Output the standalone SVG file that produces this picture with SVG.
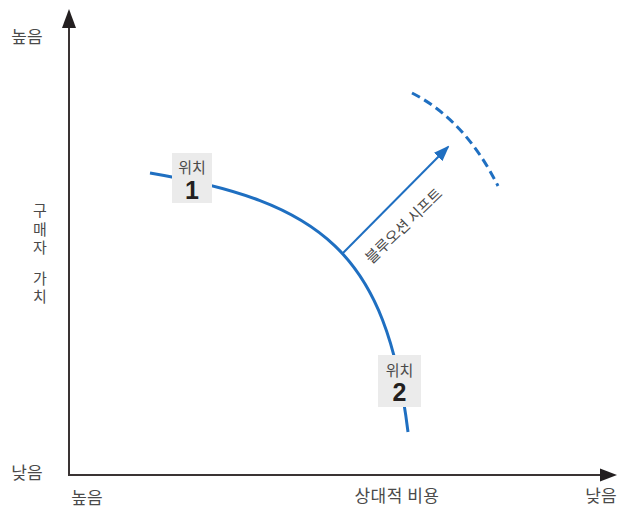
<svg xmlns="http://www.w3.org/2000/svg" width="619" height="514" viewBox="0 0 619 514">
<style>
text{font-family:"Noto Sans CJK KR","Noto Sans",sans-serif;fill:#4a4a4a}
.lbl{font-size:17px}
.vlbl{font-size:15px;writing-mode:vertical-rl;letter-spacing:3.5px;word-spacing:5px}
.ax{stroke:#3a3434;stroke-width:2;fill:none}
.curve{stroke:#1f6fc1;stroke-width:3;fill:none}
.box{fill:#ebebeb}
.num{font-family:"Liberation Sans",Arial,sans-serif;font-weight:bold;font-size:25px;fill:#231f20}
.pos{font-size:15px}
</style>
<defs>
<marker id="blueHead" viewBox="0 0 16 12" refX="14" refY="6" markerWidth="16" markerHeight="12" markerUnits="userSpaceOnUse" orient="auto">
<path d="M0,0 L16,6 L0,12 Z" fill="#1f6fc1"/>
</marker>
</defs>
<g id="connectors">
<g id="axes">
<path class="ax" d="M69,28 V475 H601"/>
<path d="M69,9 L62,28 L76,28 Z" fill="#231f20"/>
<path d="M617,475 L600,468.5 L600,481.5 Z" fill="#231f20"/>
</g>
<path id="frontier" class="curve" d="M150,173 C321,202 386,252 408,432"/>
<path id="new-frontier" class="curve" stroke-dasharray="9,5" d="M412,93 Q465,120 498,186"/>
<line id="shift-arrow" x1="342" y1="254" x2="448" y2="147" stroke="#1f6fc1" stroke-width="2" marker-end="url(#blueHead)"/>
</g>
<g id="axis-labels">
<text class="lbl" x="27" y="35" text-anchor="middle" dominant-baseline="central">높음</text>
<text class="lbl" x="27" y="471" text-anchor="middle" dominant-baseline="central">낮음</text>
<text class="lbl" x="87" y="496" text-anchor="middle" dominant-baseline="central">높음</text>
<text class="lbl" x="397" y="494" text-anchor="middle" dominant-baseline="central" letter-spacing="0.5">상대적 비용</text>
<text class="lbl" x="601" y="494" text-anchor="middle" dominant-baseline="central">낮음</text>
<text class="vlbl" x="40" y="203">구매자 가치</text>
</g>
<g id="position-1">
<rect class="box" x="172" y="153" width="40" height="50"/>
<text class="pos" x="192" y="166" text-anchor="middle" dominant-baseline="central">위치</text>
<text class="num" x="192" y="190" text-anchor="middle" dominant-baseline="central">1</text>
</g>
<g id="position-2">
<rect class="box" x="378" y="355" width="43" height="52"/>
<text class="pos" x="399.5" y="369" text-anchor="middle" dominant-baseline="central">위치</text>
<text class="num" x="399.5" y="392" text-anchor="middle" dominant-baseline="central">2</text>
</g>
<g id="shift-label">
<text x="403" y="225" font-size="15" text-anchor="middle" dominant-baseline="central" transform="rotate(-44 403 225)">블루오션 시프트</text>
</g>
</svg>
